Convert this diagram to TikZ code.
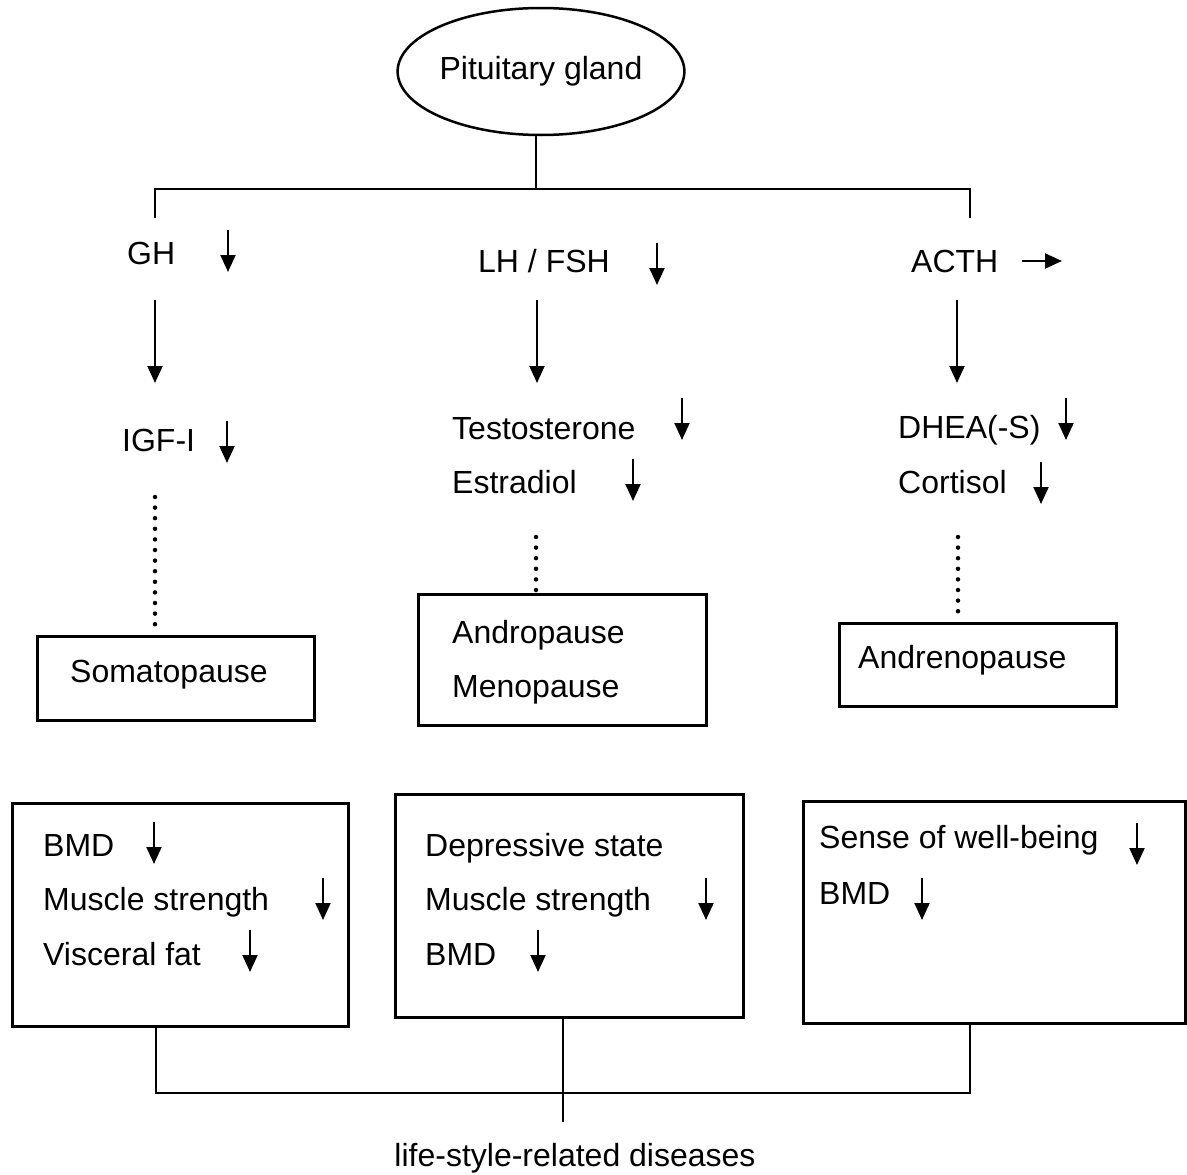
\documentclass[tikz,border=0pt]{standalone}
\usepackage{fontspec}
\setmainfont{Liberation Sans}
\usetikzlibrary{arrows.meta,shapes.geometric}

\begin{document}
\begin{tikzpicture}[x=1pt,y=-1pt,
  lbl/.style={anchor=base west,inner sep=0pt,font=\fontsize{32}{38}\selectfont},
  boxn/.style={draw,line width=2.5pt,anchor=north west,inner sep=0pt},
  arr/.style={line width=2pt,-{Triangle[width=15pt,length=17pt]}},
  tree/.style={line width=2.5pt},
  dots/.style={line width=4.5pt,line cap=round,dash pattern=on 0pt off 10.6pt}]
\useasboundingbox (0,0) rectangle (1187,1175);

% top of the tree
\node[draw,ellipse,line width=2.5pt,minimum width=280pt,minimum height=127pt,inner sep=0pt,
  font=\fontsize{32}{38}\selectfont] (pit) at (541,71.5) {Pituitary gland};
\coordinate (jt) at (536,189);
\coordinate (gl) at (155,218);
\coordinate (gr) at (970,218);
\draw[tree] (pit.south -| jt) -- (jt);
\draw[tree] (gl) |- (jt) -| (gr);

% hormones
\node[lbl] (gh) at (127,264) {GH};
\node[lbl] (lh) at (478,272) {LH / FSH};
\node[lbl] (acth) at (911,272) {ACTH};
\draw[arr] (228,230) -- (228,272);
\draw[arr] (657,243) -- (657,285);
\draw[arr] (1022,261) -- (1062,261);

\draw[arr] (155,300) -- (155,383);
\draw[arr] (537,300) -- (537,383);
\draw[arr] (957,300) -- (957,383);

\node[lbl] (igf) at (122,451) {IGF-I};
\node[lbl] (testo) at (452,439) {Testosterone};
\node[lbl] (estra) at (452,493) {Estradiol};
\node[lbl] (dhea) at (898,438) {DHEA(-S)};
\node[lbl] (corti) at (898,493) {Cortisol};
\draw[arr] (227,421) -- (227,463);
\draw[arr] (682,398) -- (682,440);
\draw[arr] (633,459) -- (633,501);
\draw[arr] (1066,398) -- (1066,440);
\draw[arr] (1041,462) -- (1041,504);

% pause boxes
\node[boxn,minimum width=277pt,minimum height=84pt] (soma) at (36,635) {};
\node[boxn,minimum width=288pt,minimum height=131pt] (andro) at (417,593) {};
\node[boxn,minimum width=277pt,minimum height=83pt] (adreno) at (838,622) {};
\node[lbl] at (70,682) {Somatopause};
\node[lbl] at (452,643) {Andropause};
\node[lbl] at (452,697) {Menopause};
\node[lbl] at (858,668) {Andrenopause};
\draw[dots] (155,497) -- (155,633);
\draw[dots] (536,537) -- (536,592);
\draw[dots] (958,537) -- (958,613);

% effect boxes
\node[boxn,minimum width=336pt,minimum height=223pt] (bl) at (11,802) {};
\node[boxn,minimum width=348pt,minimum height=223pt] (bm) at (394,793) {};
\node[boxn,minimum width=382pt,minimum height=222pt] (br) at (802,800) {};

\node[lbl] at (43,856) {BMD};
\node[lbl] at (43,910) {Muscle strength};
\node[lbl] at (43,965) {Visceral fat};
\draw[arr] (154,822) -- (154,864);
\draw[arr] (323,878) -- (323,920);
\draw[arr] (250,930) -- (250,972);

\node[lbl] at (425,856) {Depressive state};
\node[lbl] at (425,910) {Muscle strength};
\node[lbl] at (425,965) {BMD};
\draw[arr] (706,878) -- (706,920);
\draw[arr] (538,930) -- (538,972);

\node[lbl] at (819,848) {Sense of well-being};
\node[lbl] at (819,904) {BMD};
\draw[arr] (1137,823) -- (1137,865);
\draw[arr] (922,878) -- (922,920);

% bottom of the tree
\draw[tree] (156,1025) |- (970,1093) -- (970,1022);
\draw[tree] (563,1016) -- (563,1122);
\node[anchor=base,inner sep=0pt,font=\fontsize{32}{38}\selectfont] (life) at (575,1166) {life-style-related diseases};
\end{tikzpicture}
\end{document}
